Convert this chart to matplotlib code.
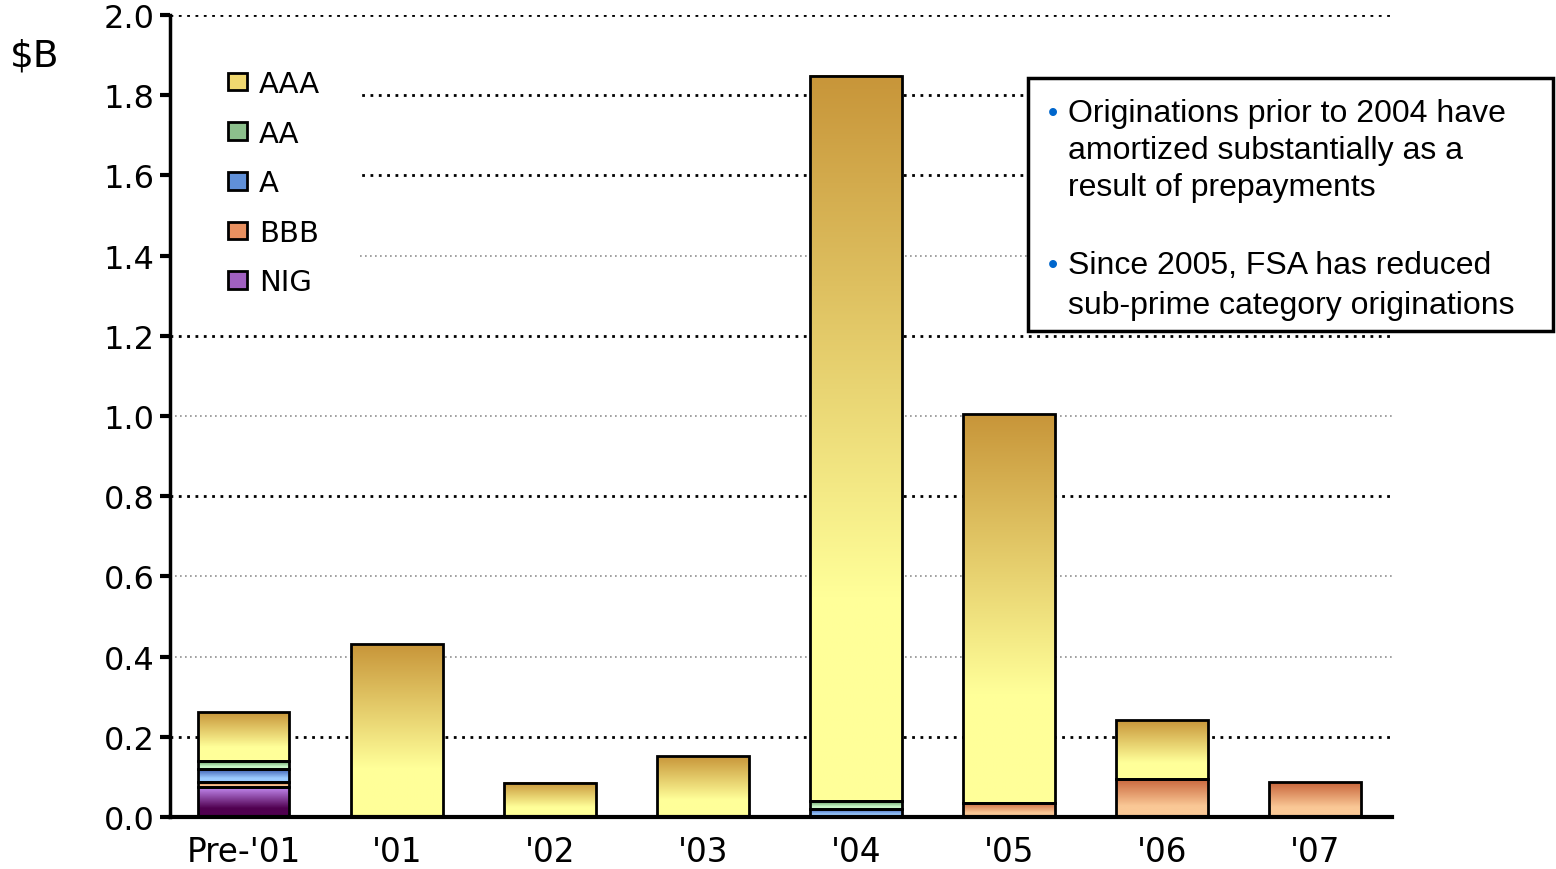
import numpy as np
import matplotlib
matplotlib.use("Agg")
import matplotlib.pyplot as plt
from matplotlib.patches import Rectangle, Patch
from matplotlib.colors import to_rgb

# values in $B
years = ["Pre-'01", "'01", "'02", "'03", "'04", "'05", "'06", "'07"]
nig = [0.075, 0, 0, 0, 0, 0, 0, 0]
bbb = [0.012, 0, 0, 0, 0, 0.035, 0.095, 0.087]
a_ = [0.033, 0, 0, 0, 0.020, 0, 0, 0]
aa = [0.020, 0, 0, 0, 0.020, 0, 0, 0]
aaa = [0.122, 0.431, 0.085, 0.152, 1.808, 0.970, 0.147, 0]

ratings = ["NIG", "BBB", "A", "AA", "AAA"]
series = [nig, bbb, a_, aa, aaa]
# (top colour, bottom colour) of each gradient
grads = {
    "AAA": ("#c8963a", "#ffff99"),
    "AA": ("#4e8a4e", "#c8f5c8"),
    "A": ("#3050a8", "#9ccbff"),
    "BBB": ("#c8643a", "#fac896"),
    "NIG": ("#c890f8", "#500050"),
}
legend_cols = {"AAA": "#f0d870", "AA": "#8cc08c", "A": "#6090d8",
               "BBB": "#e89060", "NIG": "#a060c0"}

W, H = 1556, 870
fig = plt.figure(figsize=(W / 100, H / 100), dpi=100)
ax = fig.add_axes([170 / W, 1 - 818 / H, (1392 - 170) / W, (818 - 16) / H])


def gradient(top, bottom, n=80):
    t = np.linspace(0, 1, n)
    f = np.clip(t / 0.72, 0, 1)[:, None]
    c0, c1 = np.array(to_rgb(top)), np.array(to_rgb(bottom))
    return (c0 + (c1 - c0) * f)[:, None, :]


width = 0.6
for i in range(len(years)):
    base = 0
    for name, vals in zip(ratings, series):
        v = vals[i]
        if v <= 0:
            continue
        x0 = i - width / 2
        top, bot = grads[name]
        ax.imshow(gradient(top, bot), extent=(x0, x0 + width, base, base + v),
                  aspect="auto", origin="upper", zorder=2, interpolation="bilinear")
        ax.add_patch(Rectangle((x0, base), width, v, facecolor="none",
                               edgecolor="black", linewidth=2, zorder=3))
        base += v

# dotted grid, some levels dark, some grey
dark = [0.2, 0.8, 1.2, 1.6, 1.8, 2.0]
grey = [0.4, 0.6, 1.0, 1.4]
for y in dark:
    ax.axhline(y, color="black", linestyle=(0, (1, 2)), linewidth=2, zorder=1)
for y in grey:
    ax.axhline(y, color="#909090", linestyle=(0, (1, 2)), linewidth=1.2, zorder=1)

ax.set_xlim(-0.48, 7.5)
ax.set_ylim(0, 2.0)
ax.set_yticks(np.arange(0, 2.01, 0.2))
ax.set_yticklabels([f"{v:.1f}" for v in np.arange(0, 2.01, 0.2)])
ax.set_xticks(range(len(years)))
ax.set_xticklabels(years)
ax.tick_params(axis="y", length=7, width=3, labelsize=23, pad=4)
ax.tick_params(axis="x", length=0, labelsize=23.5, pad=13)
for s in ["top", "right"]:
    ax.spines[s].set_visible(False)
ax.spines["left"].set_linewidth(2.5)
ax.spines["bottom"].set_linewidth(3)
ax.spines["bottom"].set_zorder(4)

# white area behind the legend hides the grid there
ax.add_patch(Rectangle((0, 1 - 305 / 802), (360 - 170) / 1222, (305 - 55) / 802,
                       transform=ax.transAxes, facecolor="white",
                       edgecolor="none", zorder=1.5))
handles = [Patch(facecolor=legend_cols[n], edgecolor="black", linewidth=2, label=n)
           for n in ["AAA", "AA", "A", "BBB", "NIG"]]
leg = ax.legend(handles=handles, loc="upper left",
                bbox_to_anchor=((228 - 170) / 1222, 1 - (71 - 16) / 802),
                fontsize=21, frameon=False, borderpad=0, borderaxespad=0,
                handlelength=0.65, handleheight=0.55, handletextpad=0.4,
                labelspacing=0.74)
leg.set_zorder(5)

fig.text(10 / W, 1 - 56 / H, r"\$B", fontsize=27, va="center", ha="left")

# note box
fig.patches.append(Rectangle((1028 / W, 1 - 332 / H), (1553 - 1028) / W, (332 - 79) / H,
                             transform=fig.transFigure, facecolor="white",
                             edgecolor="black", linewidth=2.5, zorder=6))
lines = [
    (114, True, "Originations prior to 2004 have"),
    (151, False, "amortized substantially as a"),
    (188, False, "result of prepayments"),
    (266, True, "Since 2005, FSA has reduced"),
    (306, False, "sub-prime category originations"),
]
for y, bullet, txt in lines:
    if bullet:
        fig.text(1048 / W, 1 - y / H, "\u2022", color="#0066cc", fontsize=21,
                 va="center", ha="left", family="Liberation Sans", zorder=7)
    fig.text(1068 / W, 1 - y / H, txt, fontsize=23, va="center", ha="left",
             family="Liberation Sans", zorder=7)

fig.savefig("out.png", dpi=100)
